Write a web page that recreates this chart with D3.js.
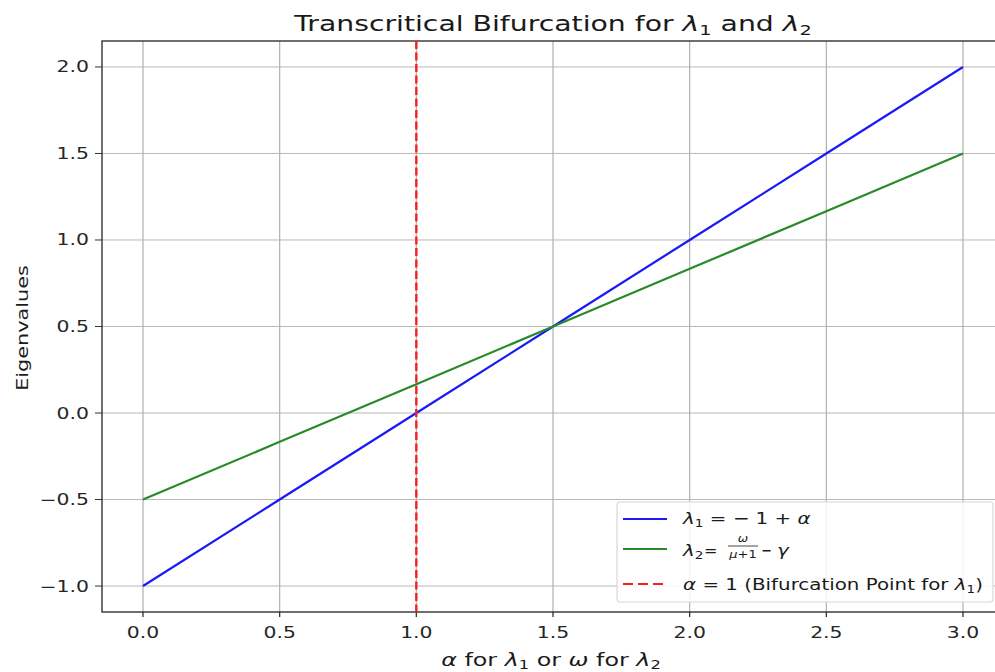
<!DOCTYPE html>
<html>
<head>
<meta charset="utf-8">
<script src="https://cdn.jsdelivr.net/npm/d3@7/dist/d3.min.js"></script>
<style>
  html, body { margin: 0; padding: 0; background: #fff; }
  svg { display: block; font-family: "DejaVu Sans", sans-serif; }
</style>
</head>
<body>
<svg id="chart" width="995" height="672"></svg>
<script>
// Parameter values along the horizontal axis
const params = [0, 0.5, 1, 1.5, 2, 2.5, 3];
// λ1 = -1 + α
const lambda1 = [-1, -0.5, 0, 0.5, 1, 1.5, 2];
// λ2 = ω/(μ+1) - γ
const lambda2 = [-0.5, -1/6, 1/6, 0.5, 5/6, 7/6, 1.5];
// Bifurcation point for λ1
const bifurcationAlpha = 1;
const xTicks = [0, 0.5, 1, 1.5, 2, 2.5, 3];
const yTicks = [-1, -0.5, 0, 0.5, 1, 1.5, 2];

const SX = 1.36;            // horizontal stretch of the figure's lettering
const INK = "#1a1a1a";

const svg = d3.select("#chart");
const m = { left: 102, top: 41, right: 1004, bottom: 612 };

const x = d3.scaleLinear().domain([-0.15, 3.15]).range([m.left, m.right]);
const y = d3.scaleLinear().domain([-1.15, 2.15]).range([m.bottom, m.top]);

// text placed inside a horizontally stretched group
function label(px, py, size, anchor, sx = SX) {
  const g = svg.append("g").attr("transform", `translate(${px},${py}) scale(${sx},1)`);
  return g.append("text").attr("text-anchor", anchor).attr("font-size", size).attr("fill", INK);
}

// grid
const grid = svg.append("g").attr("stroke", "#b0b0b0");
xTicks.forEach(t => grid.append("line").attr("x1", x(t)).attr("x2", x(t)).attr("y1", m.top).attr("y2", m.bottom).attr("stroke-width", 1.2));
yTicks.forEach(t => grid.append("line").attr("y1", y(t)).attr("y2", y(t)).attr("x1", m.left).attr("x2", m.right).attr("stroke-width", 0.9));

// tick marks and tick labels
const ticks = svg.append("g").attr("stroke", "#333");
xTicks.forEach(t => ticks.append("line").attr("x1", x(t)).attr("x2", x(t)).attr("y1", m.bottom).attr("y2", m.bottom + 5).attr("stroke-width", 1.3));
yTicks.forEach(t => ticks.append("line").attr("y1", y(t)).attr("y2", y(t)).attr("x1", m.left - 7).attr("x2", m.left).attr("stroke-width", 1));

const fmt = d3.format(".1f");
xTicks.forEach(t => label(x(t), m.bottom + 26, 15, "middle").attr("fill", "#262626").text(fmt(t)));
yTicks.forEach(t => label(m.left - 13, y(t) + 5.5, 15, "end").attr("fill", "#262626")
  .text(t < 0 ? "\u2212" + fmt(Math.abs(t)) : fmt(t)));

// spines
svg.append("rect").attr("x", m.left).attr("y", m.top).attr("width", m.right - m.left).attr("height", m.bottom - m.top)
  .attr("fill", "none").attr("stroke", "#333").attr("stroke-width", 1.4);

// series
const line = d3.line().x((d, i) => x(params[i])).y(d => y(d));
svg.append("path").datum(lambda1).attr("d", line).attr("fill", "none").attr("stroke", "#1a1af5").attr("stroke-width", 2.2);
svg.append("path").datum(lambda2).attr("d", line).attr("fill", "none").attr("stroke", "#288a28").attr("stroke-width", 2.2);
svg.append("line")
  .attr("x1", x(bifurcationAlpha)).attr("x2", x(bifurcationAlpha))
  .attr("y1", m.top).attr("y2", m.bottom)
  .attr("stroke", "#f52020").attr("stroke-width", 2.4).attr("stroke-dasharray", "8,3.5");

// title
const title = label(553, 31, 20.5, "middle", 1.38);
title.append("tspan").text("Transcritical Bifurcation for ");
title.append("tspan").attr("font-style", "italic").text("λ");
title.append("tspan").attr("font-size", 14).attr("dy", 4).text("1");
title.append("tspan").attr("dy", -4).text(" and ");
title.append("tspan").attr("font-style", "italic").text("λ");
title.append("tspan").attr("font-size", 14).attr("dy", 4).text("2");

// axis labels
const xl = label(551, 666, 17.5, "middle");
xl.append("tspan").attr("font-style", "italic").text("α");
xl.append("tspan").text(" for ");
xl.append("tspan").attr("font-style", "italic").text("λ");
xl.append("tspan").attr("font-size", 12).attr("dy", 3).text("1");
xl.append("tspan").attr("dy", -3).text(" or ");
xl.append("tspan").attr("font-style", "italic").text("ω");
xl.append("tspan").text(" for ");
xl.append("tspan").attr("font-style", "italic").text("λ");
xl.append("tspan").attr("font-size", 12).attr("dy", 3).text("2");

// y label, stretched along its length
svg.append("g").attr("transform", "translate(28,328) rotate(-90) scale(1.26,1)")
  .append("text").attr("text-anchor", "middle").attr("font-size", 16.5).attr("fill", INK).text("Eigenvalues");

// legend
const lg = svg.append("g").attr("transform", "translate(617,502)");
lg.append("rect").attr("width", 376).attr("height", 100).attr("rx", 3)
  .attr("fill", "#fff").attr("fill-opacity", 0.85).attr("stroke", "#d8d8d8").attr("stroke-width", 1.2);
const rows = [
  { y: 17, color: "#1a1af5", dash: null },
  { y: 47, color: "#288a28", dash: null },
  { y: 82, color: "#f52020", dash: "10,5" }
];
rows.forEach(r => {
  lg.append("line").attr("x1", 6).attr("x2", 50).attr("y1", r.y).attr("y2", r.y)
    .attr("stroke", r.color).attr("stroke-width", 2.2).attr("stroke-dasharray", r.dash);
});

const LX = 683, LY = 502;
const LSX = 1.24, fs = 16, sub = 11;
const t1 = label(LX, LY + 22, fs, "start", LSX);
t1.append("tspan").attr("font-style", "italic").text("λ");
t1.append("tspan").attr("font-size", sub).attr("dy", 3).text("1");
t1.append("tspan").attr("dy", -3).text(" = \u2212 1 + ");
t1.append("tspan").attr("font-style", "italic").text("α");

// λ2 = ω/(μ+1) − γ, set piece by piece
const t2 = label(LX, LY + 54, fs, "start", LSX);
t2.append("tspan").attr("font-style", "italic").text("λ");
t2.append("tspan").attr("font-size", sub).attr("dy", 3).text("2");
label(704, LY + 54, fs, "start", 1.0).text("=");
label(743, LY + 40, 10, "middle", LSX).attr("font-style", "italic").text("ω");
lg.append("line").attr("x1", 111).attr("x2", 141).attr("y1", 44).attr("y2", 44).attr("stroke", INK).attr("stroke-width", 0.8);
label(743, LY + 56, 10.5, "middle", LSX).html('<tspan font-style="italic">μ</tspan>+1');
label(761, LY + 54, fs, "start", 0.8).text("\u2212");
label(777, LY + 54, fs, "start", LSX).attr("font-style", "italic").text("γ");

const t3 = label(LX, LY + 88, fs, "start", LSX);
t3.append("tspan").attr("font-style", "italic").text("α");
t3.append("tspan").text(" = 1 (Bifurcation Point for ");
t3.append("tspan").attr("font-style", "italic").text("λ");
t3.append("tspan").attr("font-size", sub).attr("dy", 3).text("1");
t3.append("tspan").attr("dy", -3).text(")");
</script>
</body>
</html>
